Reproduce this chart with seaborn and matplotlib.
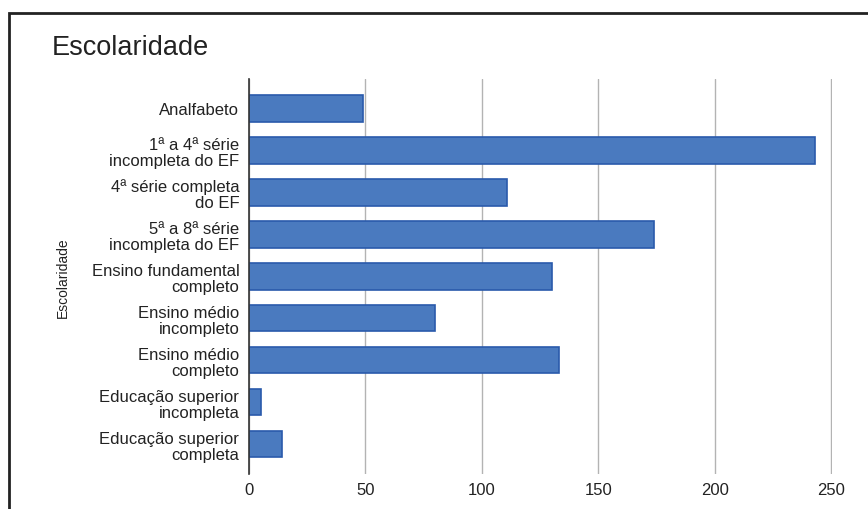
import matplotlib
matplotlib.use("Agg")
import matplotlib.pyplot as plt
import seaborn as sns
import pandas as pd

categorias = [
    "Analfabeto",
    "1ª a 4ª série\nincompleta do EF",
    "4ª série completa\ndo EF",
    "5ª a 8ª série\nincompleta do EF",
    "Ensino fundamental\ncompleto",
    "Ensino médio\nincompleto",
    "Ensino médio\ncompleto",
    "Educação superior\nincompleta",
    "Educação superior\ncompleta",
]
valores = [49, 243, 111, 174, 130, 80, 133, 5, 14]
xticks = [0, 50, 100, 150, 200, 250]

df = pd.DataFrame({"Escolaridade": categorias, "Total": valores})

sns.set_theme(style="white")
plt.rcParams["font.family"] = ["Liberation Sans", "DejaVu Sans"]

fig = plt.figure(figsize=(8.68, 5.10), dpi=100)
ax = fig.add_axes([249 / 868, 1 - 475 / 510, 583 / 868, 395 / 510])

sns.barplot(ax=ax, data=df, y="Escolaridade", x="Total", orient="h",
            color="#4a7abf", saturation=1, width=0.63,
            edgecolor="#2a5aab", linewidth=1.2)

ax.set_xlim(0, 250.4)
ax.set_ylim(8.71, -0.70)
ax.set_xticks(xticks)
ax.xaxis.grid(True, color="#b3b3b3", linewidth=1)
ax.set_axisbelow(True)
for s in ["top", "right", "bottom"]:
    ax.spines[s].set_visible(False)
ax.spines["left"].set_color("#333333")
ax.spines["left"].set_linewidth(1.2)
ax.spines["left"].set_zorder(5)

ax.tick_params(axis="both", length=0, labelsize=12, colors="#222222")
ax.tick_params(axis="y", pad=7)
ax.tick_params(axis="x", pad=6)
for t in ax.get_yticklabels():
    t.set_linespacing(1.1)
    t.set_multialignment("right")

ax.set_xlabel("")
ax.set_ylabel("Escolaridade", fontsize=10, color="#222222")
ax.yaxis.set_label_coords(-0.307, 0.5)

fig.text(52 / 868, 1 - 48 / 510, "Escolaridade", fontsize=19.5,
         color="#222222", va="center", ha="left")

# moldura preta (so topo e esquerda aparecem)
fig.add_artist(plt.Rectangle((9 / 868, -0.1), 1.2, 1.1 - 14 / 510,
                             transform=fig.transFigure, fill=False,
                             edgecolor="#222222", linewidth=2, clip_on=False))

fig.savefig("out.png", dpi=100)
